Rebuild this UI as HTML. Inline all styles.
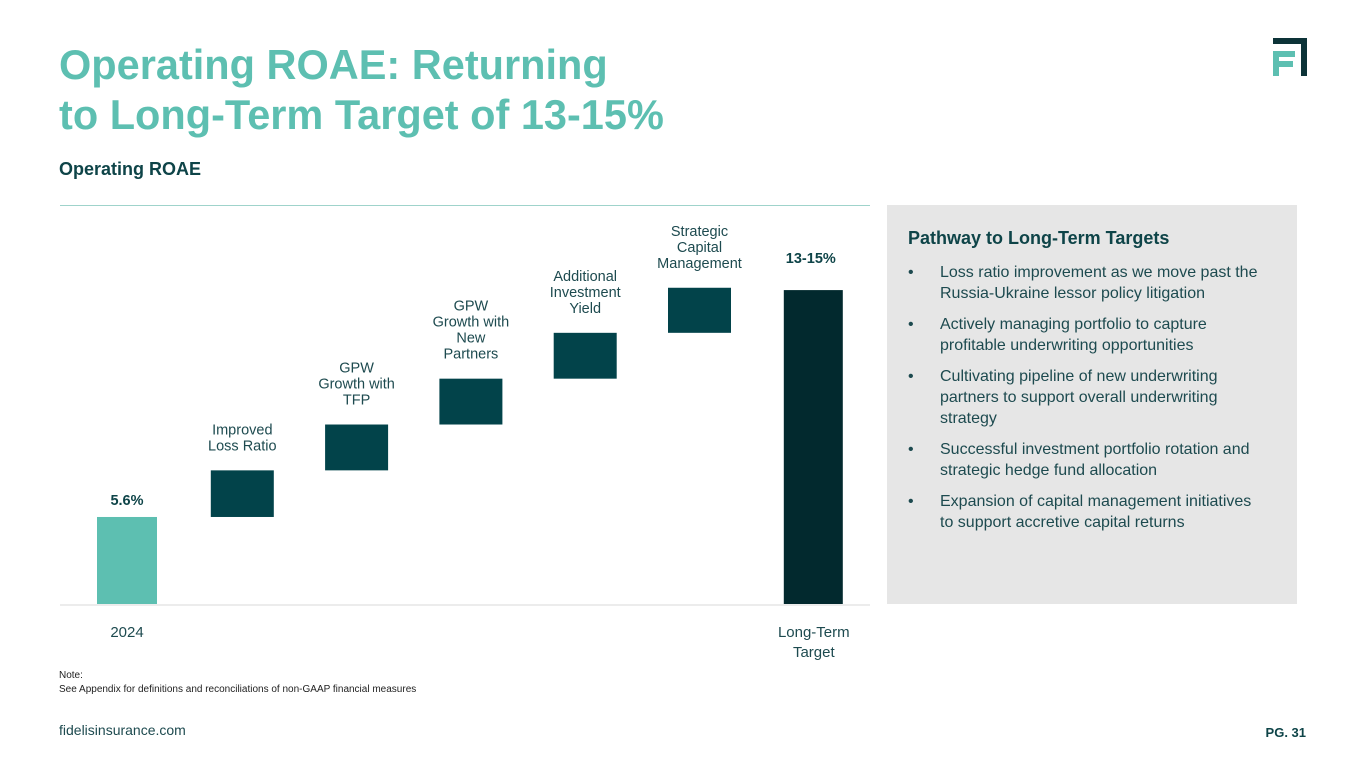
<!DOCTYPE html>
<html><head><meta charset="utf-8">
<style>
body{margin:0;width:1365px;height:768px;overflow:hidden;background:#fff;font-family:"Liberation Sans",sans-serif;position:relative}
.a{position:absolute;margin:0}
h1{position:absolute;left:59px;top:40px;margin:0;font-size:41.5px;line-height:50px;color:#5dbfb1;font-weight:bold}
.sub{left:59px;top:159px;font-size:18px;font-weight:bold;color:#0e4448}
.panel{left:887px;top:205px;width:410px;height:399px;background:#e6e6e6}
.ph{left:908px;top:228px;font-size:18px;font-weight:bold;color:#0e4448}
ul{position:absolute;left:908px;top:262px;margin:0;padding:0;list-style:none;width:358px;color:#1d4a4f;font-size:16px;line-height:21px}
li{position:relative;padding-left:32px;margin-bottom:10px}
li:before{content:"•";position:absolute;left:0}
.note{left:59px;top:669px;font-size:10px;line-height:14px;color:#222}
.foot{left:59px;top:722px;font-size:14px;color:#1d4a4f}
.pg{right:59px;top:725px;font-size:13px;font-weight:bold;color:#0e4448}
</style></head><body>
<h1>Operating ROAE: Returning<br>to Long-Term Target of 13-15%</h1>
<svg class="a" style="left:1271px;top:37px" width="37" height="40">
<path d="M2 1H36V39H30V7H2Z" fill="#0d3338"/>
<path d="M2 14H24V20H8V24H22V30H8V39H2Z" fill="#5dbfb1"/>
</svg>
<div class="a sub">Operating ROAE</div>
<div class="a panel"></div>
<div class="a ph">Pathway to Long-Term Targets</div>
<ul>
<li>Loss ratio improvement as we move past the Russia-Ukraine lessor policy litigation</li>
<li>Actively managing portfolio to capture profitable underwriting opportunities</li>
<li>Cultivating pipeline of new underwriting partners to support overall underwriting strategy</li>
<li>Successful investment portfolio rotation and strategic hedge fund allocation</li>
<li>Expansion of capital management initiatives to support accretive capital returns</li>
</ul>
<svg id="chart" class="a" style="left:0;top:0" width="880" height="670"></svg>
<div class="a note">Note:<br>See Appendix for definitions and reconciliations of non-GAAP financial measures</div>
<div class="a foot">fidelisinsurance.com</div>
<div class="a pg">PG. 31</div>
<script>
const categories=[["2024"],["Improved","Loss Ratio"],["GPW","Growth with","TFP"],["GPW","Growth with","New","Partners"],["Additional","Investment","Yield"],["Strategic","Capital","Management"],["Long-Term","Target"]];
const baseValue=5.6;
const stepValues=[3.0,2.95,2.95,2.95,2.9];
const targetValue=20.2;
const valueLabels=["5.6%","13-15%"];
const NS="http://www.w3.org/2000/svg",svg=document.getElementById("chart");
const y0=604,k=15.54;
const yv=v=>y0-v*k;
const xc=i=>127+i*114.3;
const bw=61;
function el(t,a){const e=document.createElementNS(NS,t);for(const n in a)e.setAttribute(n,a[n]);svg.appendChild(e);return e;}
function txt(x,y,s,opt){const e=el("text",{x:x,y:y,"text-anchor":"middle","font-size":opt.fs||14.5,"font-weight":opt.b?"bold":"normal",fill:opt.c||"#1d4a4f","font-family":"Liberation Sans, sans-serif"});e.textContent=s;return e;}
let l=el("line",{x1:60,x2:870,y1:205.5,y2:205.5,stroke:"#9fd3cb","stroke-width":1});

l=el("line",{x1:60,x2:870,y1:605,y2:605,stroke:"#d9d9d9","stroke-width":1});

let r=el("rect",{x:xc(0)-30,y:yv(baseValue),width:60,height:baseValue*k,fill:"#5dbfb1"});

let t=txt(xc(0),yv(baseValue)-12,valueLabels[0],{b:1,c:"#0e4448"});

let cum=baseValue;
stepValues.forEach((v,i)=>{
  const top=cum+v;
  const b=el("rect",{x:xc(i+1)-bw/2,y:yv(top),width:bw+2,height:v*k,fill:"#02434a"});
  
  
  const lines=categories[i+1];
  lines.forEach((s,j)=>{
    const tt=txt(xc(i+1)+1,yv(top)-20-(lines.length-1-j)*16,s,{});
    
    
  });
  cum=top;
});
r=el("rect",{x:xc(6)-29,y:yv(targetValue),width:59,height:targetValue*k,fill:"#02292e"});

t=txt(xc(6)-2,yv(targetValue)-27,valueLabels[1],{b:1,c:"#0e4448"});

t=txt(xc(0),637,categories[0][0],{fs:15});

categories[6].forEach((s,j)=>{
  const tt=txt(xc(6)+1,637+j*20,s,{fs:15});
  
  
});
</script>
</body></html>
